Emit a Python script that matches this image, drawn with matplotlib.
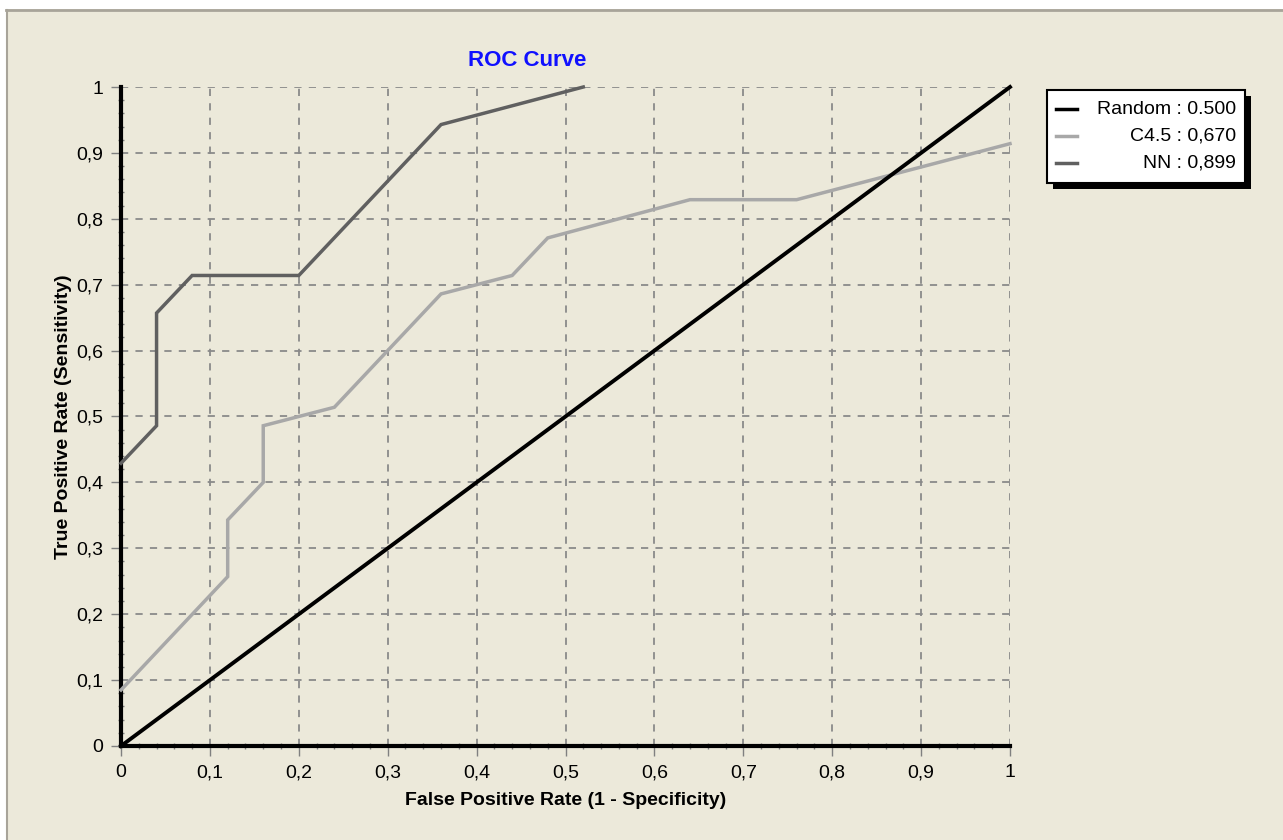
import numpy as np
import matplotlib
matplotlib.use("Agg")
import matplotlib.pyplot as plt
from matplotlib.patches import Rectangle
from matplotlib.ticker import MultipleLocator, FuncFormatter

# ROC points (false positive rate, true positive rate)
random_fpr = [0.0, 1.0]
random_tpr = [0.0, 1.0]

c45_fpr = [0.0, 0.12, 0.12, 0.16, 0.16, 0.24, 0.36, 0.44, 0.48, 0.64, 0.76, 1.0]
c45_tpr = [0.085, 0.257, 0.343, 0.4, 0.486, 0.514, 0.686, 0.714, 0.771, 0.829, 0.829, 0.914]

nn_fpr = [0.0, 0.04, 0.04, 0.08, 0.2, 0.36, 0.52]
nn_tpr = [0.429, 0.486, 0.657, 0.714, 0.714, 0.943, 1.0]

legend_labels = ["Random : 0.500", "C4.5 : 0,670", "NN : 0,899"]
line_colors = ["#000000", "#a8a8a8", "#606060"]

bg = "#ece9da"
W, H = 1283, 840

plt.rcParams["font.family"] = ["Liberation Sans", "DejaVu Sans"]

fig = plt.figure(figsize=(W / 100, H / 100), dpi=100, facecolor=bg)

# window frame: white strip on top/left with a thin grey edge
fig.patches.append(Rectangle((0, 1 - 9 / H), 1, 9 / H, transform=fig.transFigure,
                             facecolor="white", edgecolor="none", zorder=0))
fig.patches.append(Rectangle((0, 0), 6 / W, 1, transform=fig.transFigure,
                             facecolor="white", edgecolor="none", zorder=0))
fig.add_artist(plt.Line2D([6 / W, 1], [1 - 10 / H, 1 - 10 / H], transform=fig.transFigure,
                          color="#a8a499", lw=2))
fig.add_artist(plt.Line2D([7 / W, 7 / W], [0, 1 - 10 / H], transform=fig.transFigure,
                          color="#a8a499", lw=1.5))

ax = fig.add_axes([121 / W, 1 - 746 / H, (1010 - 121) / W, (746 - 87) / H])
ax.set_facecolor(bg)
ax.set_xlim(0, 1)
ax.set_ylim(0, 1)

ax.xaxis.set_major_locator(MultipleLocator(0.1))
ax.yaxis.set_major_locator(MultipleLocator(0.1))
ax.xaxis.set_minor_locator(MultipleLocator(0.02))
ax.yaxis.set_minor_locator(MultipleLocator(0.02))

def comma_fmt(v, pos):
    if abs(v) < 1e-9:
        return "0"
    if abs(v - 1) < 1e-9:
        return "1"
    return ("%.1f" % v).replace(".", ",")

ax.xaxis.set_major_formatter(FuncFormatter(comma_fmt))
ax.yaxis.set_major_formatter(FuncFormatter(comma_fmt))

ax.grid(True, which="major", color="#8a8a8a", linestyle=(0, (4, 4)), linewidth=1.3)
ax.set_axisbelow(True)

for side in ["top", "right"]:
    ax.spines[side].set_visible(False)
for side in ["left", "bottom"]:
    ax.spines[side].set_linewidth(3)
    ax.spines[side].set_color("black")

ax.tick_params(which="major", direction="out", length=7, width=1, color="#808080",
               labelsize=14, pad=6)
ax.tick_params(which="minor", direction="inout", length=5, width=1, color="#808080")

ax.plot(nn_fpr, nn_tpr, color=line_colors[2], lw=2.5, zorder=3, clip_on=False,
        solid_joinstyle="miter")
ax.plot(c45_fpr, c45_tpr, color=line_colors[1], lw=2.5, zorder=3, clip_on=False,
        solid_joinstyle="miter")
ax.plot(random_fpr, random_tpr, color=line_colors[0], lw=2.8, zorder=4, clip_on=False)

fig.text(527 / W, 1 - 60 / H, "ROC Curve", color="#1010ff", fontsize=16,
         fontweight="bold", ha="center", va="center")
ax.set_xlabel("False Positive Rate (1 - Specificity)", fontsize=14, fontweight="bold",
              labelpad=8)
ax.set_ylabel("True Positive Rate (Sensitivity)", fontsize=14, fontweight="bold",
              labelpad=3)

# legend box with drop shadow
lx0, ly0, lx1, ly1 = 1047, 90, 1245, 183
fig.patches.append(Rectangle(((lx0 + 6) / W, 1 - (ly1 + 6) / H), (lx1 - lx0) / W,
                             (ly1 - ly0) / H, transform=fig.transFigure,
                             facecolor="black", edgecolor="none", zorder=5))
fig.patches.append(Rectangle((lx0 / W, 1 - ly1 / H), (lx1 - lx0) / W, (ly1 - ly0) / H,
                             transform=fig.transFigure, facecolor="white",
                             edgecolor="black", lw=1.5, zorder=6))
row_y = [109, 136, 163]
for label, color, yy in zip(legend_labels, line_colors, row_y):
    fig.add_artist(plt.Line2D([1056 / W, 1077 / W], [1 - yy / H, 1 - yy / H],
                              transform=fig.transFigure, color=color, lw=2.5, zorder=7))
    fig.text(1236 / W, 1 - yy / H, label, ha="right", va="center", fontsize=14,
             color="black", zorder=7)

fig.savefig("out.png", dpi=100, facecolor=bg)
